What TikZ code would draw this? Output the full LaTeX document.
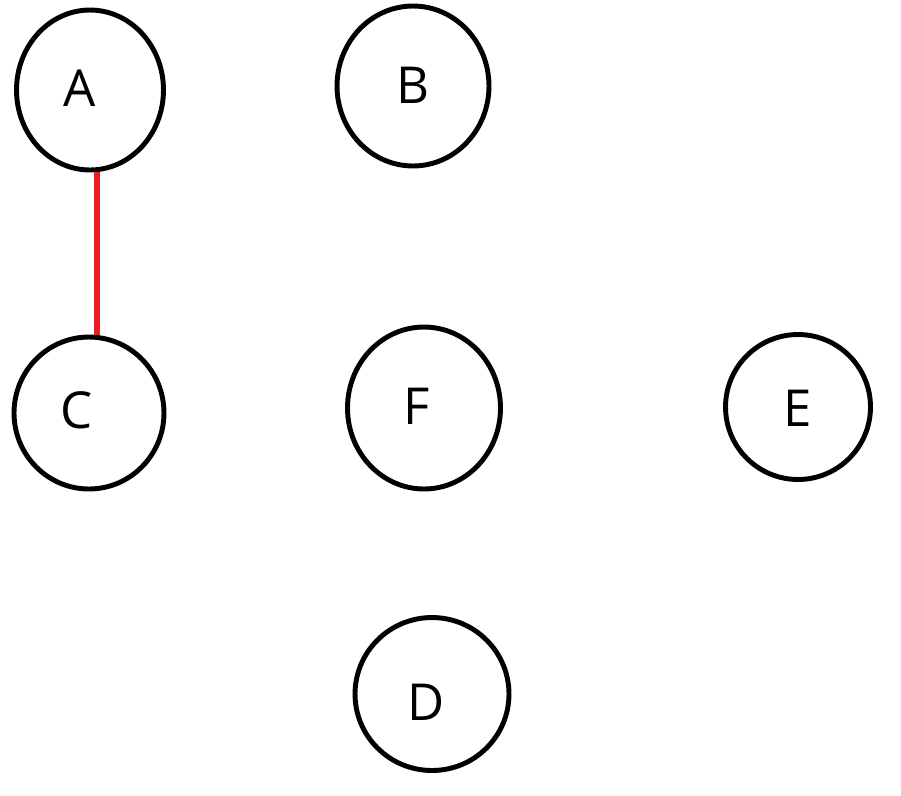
\documentclass[tikz,border=0pt]{standalone}
\usepackage{fontspec}
\setmainfont{Open Sans}
\usetikzlibrary{calc,shapes.geometric}

\definecolor{paintred}{RGB}{237,28,36}

\begin{document}
\begin{tikzpicture}[x=0.02cm, y=-0.02cm,
    vertex/.style={draw=black, line width=2.8pt, ellipse, inner sep=0pt},
    vlabel/.style={font=\fontsize{29}{31}\selectfont, inner sep=0pt},
    edge/.style={draw=paintred, line width=3.2pt}]
    \useasboundingbox (0,0) rectangle (901,795);

    \node[vertex, minimum width=2.94cm, minimum height=3.20cm] (A) at (90,90) {};
    \node[vertex, minimum width=3.04cm, minimum height=3.20cm] (B) at (413,86) {};
    \node[vertex, minimum width=3.00cm, minimum height=3.04cm] (C) at (89,413) {};
    \node[vertex, minimum width=3.06cm, minimum height=3.24cm] (F) at (424,408) {};
    \node[vertex, minimum width=2.90cm, minimum height=2.90cm] (E) at (798,407) {};
    \node[vertex, minimum width=3.08cm, minimum height=3.06cm] (D) at (432,694) {};

    \node[vlabel] (lA) at (80,88) {A};
    \node[vlabel] (lB) at (413,85) {B};
    \node[vlabel] (lC) at (77,410) {C};
    \node[vlabel] (lF) at (417,406) {F};
    \node[vlabel] (lE) at (798,408) {E};
    \node[vlabel] (lD) at (426,702) {D};

    \draw[edge] ($(A.south)+(7,0)$) -- ($(C.north)+(8,0)$);
\end{tikzpicture}
\end{document}
